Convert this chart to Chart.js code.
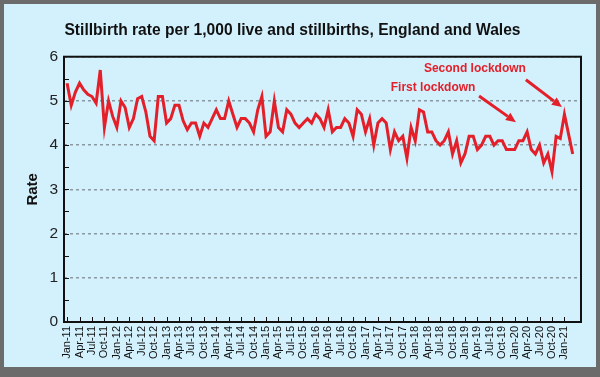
<!DOCTYPE html>
<html>
<head>
<meta charset="utf-8">
<script src="https://cdn.jsdelivr.net/npm/chart.js@4.4.0/dist/chart.umd.min.js"></script>
<style>
html,body{margin:0;padding:0;background:#6b6b6b;width:600px;height:377px;overflow:hidden;}
#frame{position:absolute;left:4px;top:4px;width:592px;height:363px;background:#d3f1fd;}
</style>
</head>
<body>
<div id="frame"><canvas id="chartS" width="592" height="363"></canvas></div>
<script>
var monthNames=['Jan','Feb','Mar','Apr','May','Jun','Jul','Aug','Sep','Oct','Nov','Dec'];
var years=['11','12','13','14','15','16','17','18','19','20','21'];

// monthly stillbirth rate, Jan-11 .. Mar-21
var rate=[
  5.4,4.9,5.2,5.4,5.25,5.15,5.1,4.95,5.7,4.4,5.0,4.65,   // 2011
  4.4,5.0,4.85,4.4,4.6,5.05,5.1,4.75,4.2,4.1,5.1,5.1,   // 2012
  4.5,4.6,4.9,4.9,4.55,4.35,4.5,4.5,4.2,4.5,4.4,4.6,    // 2013
  4.8,4.6,4.6,5.0,4.7,4.4,4.6,4.6,4.5,4.3,4.8,5.1,      // 2014
  4.2,4.3,5.0,4.4,4.3,4.8,4.7,4.5,4.4,4.5,4.6,4.5,      // 2015
  4.7,4.6,4.4,4.8,4.3,4.4,4.4,4.6,4.5,4.2,4.8,4.7,      // 2016
  4.3,4.6,4.0,4.5,4.6,4.5,3.9,4.3,4.1,4.2,3.7,4.4,      // 2017
  4.1,4.8,4.75,4.3,4.3,4.1,4.0,4.1,4.3,3.8,4.1,3.6,     // 2018
  3.8,4.2,4.2,3.9,4.0,4.2,4.2,4.0,4.1,4.1,3.9,3.9,      // 2019
  3.9,4.1,4.1,4.3,3.9,3.8,4.0,3.6,3.8,3.4,4.2,4.15,     // 2020
  4.7,4.25,3.8                                          // 2021
];

var labels=[];
years.forEach(function(y){ monthNames.forEach(function(m){ labels.push(m+'-'+y); }); });
var points=rate.map(function(v,i){ return {x:i,y:v}; });
var tickIdx=[];
for (var t=0;t<=120;t+=3) tickIdx.push(t);

var notes=[
  {text:'First lockdown', at:[88.3,5.3], from:[99.4,5.11], to:[108.3,4.52]},
  {text:'Second lockdown', at:[98.4,5.72], from:[110.7,5.48], to:[119.4,4.86]}
];
var red='#e3202a';

Chart.defaults.font.family="'Liberation Sans', Arial, sans-serif";

var extras={
  id:'extras',
  afterDatasetsDraw:function(chart){
    var c=chart.ctx, a=chart.chartArea, xs=chart.scales.x, ys=chart.scales.y;
    c.save();
    c.strokeStyle='#111';
    c.lineWidth=1;
    c.beginPath();
    tickIdx.forEach(function(v){
      var px=Math.round(xs.getPixelForValue(v))+0.5;
      c.moveTo(px,a.bottom); c.lineTo(px,a.bottom-5);
    });
    for (var v=0.5;v<6;v+=0.5){
      var py=Math.round(ys.getPixelForValue(v))+0.5;
      c.moveTo(a.left,py); c.lineTo(a.left+5,py);
    }
    c.stroke();
    c.lineWidth=2;
    c.strokeRect(a.left,a.top,a.right-a.left,a.bottom-a.top);

    // lockdown notes
    c.fillStyle=red; c.strokeStyle=red;
    c.font="bold 12px 'Liberation Sans', Arial, sans-serif";
    c.textAlign='center'; c.textBaseline='middle';
    notes.forEach(function(n){
      c.fillText(n.text, xs.getPixelForValue(n.at[0]), ys.getPixelForValue(n.at[1]));
      var x1=xs.getPixelForValue(n.from[0]), y1=ys.getPixelForValue(n.from[1]);
      var x2=xs.getPixelForValue(n.to[0]), y2=ys.getPixelForValue(n.to[1]);
      var ang=Math.atan2(y2-y1,x2-x1), hl=10, hw=4.5;
      var bx=x2-hl*Math.cos(ang), by=y2-hl*Math.sin(ang);
      c.lineWidth=3;
      c.beginPath(); c.moveTo(x1,y1); c.lineTo(bx,by); c.stroke();
      c.beginPath();
      c.moveTo(x2,y2);
      c.lineTo(bx+hw*Math.sin(ang), by-hw*Math.cos(ang));
      c.lineTo(bx-hw*Math.sin(ang), by+hw*Math.cos(ang));
      c.closePath(); c.fill();
    });
    c.restore();
  }
};

var ctx=document.getElementById("chartS");
var chartS=new Chart(ctx,{
  type:"line",
  data:{
    datasets:[{
      label:"Stillbirth rate",
      data:points,
      borderColor:red,
      backgroundColor:red,
      borderWidth:3,
      pointRadius:0,
      tension:0,
      fill:false
    }]
  },
  options:{
    responsive:false,
    animation:false,
    layout:{padding:{left:0,right:15,top:0,bottom:0}},
    plugins:{
      legend:{display:false},
      tooltip:{enabled:false},
      title:{
        display:true,
        text:'Stillbirth rate per 1,000 live and stillbirths, England and Wales',
        color:'#111',
        font:{size:15.6,weight:'bold'},
        padding:{top:17,bottom:17}
      }
    },
    scales:{
      x:{
        type:'linear',
        min:-0.75,
        max:124,
        afterBuildTicks:function(s){ s.ticks=tickIdx.map(function(v){ return {value:v}; }); },
        afterFit:function(s){ s.height=45; },
        ticks:{
          autoSkip:false,
          maxRotation:90,
          minRotation:90,
          padding:-4,
          color:'#111',
          font:{size:11},
          callback:function(v){ return labels[v]; }
        },
        grid:{display:false},
        border:{display:false}
      },
      y:{
        min:0,
        max:6,
        afterFit:function(s){ s.width=60; },
        ticks:{stepSize:1,padding:6,color:'#222',font:{size:15.5}},
        grid:{color:'#8a98a0',lineWidth:1.5,drawTicks:false},
        border:{display:false,dash:[3,3]},
        title:{display:true,text:'Rate',color:'#111',font:{size:15,weight:'bold'},padding:{top:20,bottom:0}}
      }
    }
  },
  plugins:[extras]
});
</script>
</body>
</html>
